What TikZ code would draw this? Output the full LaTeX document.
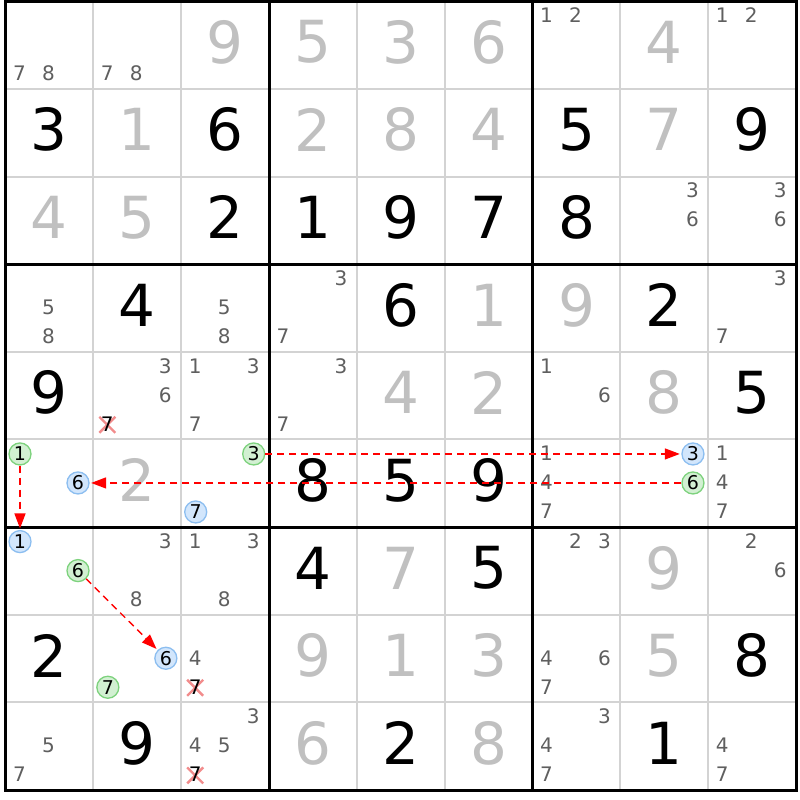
\documentclass[tikz,border=0pt]{standalone}
\usepackage{fontspec}
\setmainfont{DejaVu Sans}
\usetikzlibrary{arrows.meta}
\definecolor{gridgray}{RGB}{211,211,211}
\definecolor{givengray}{RGB}{192,192,192}
\definecolor{candgray}{RGB}{95,95,95}
\definecolor{gfill}{RGB}{210,240,210}
\definecolor{gdraw}{RGB}{125,210,125}
\definecolor{bfill}{RGB}{210,230,252}
\definecolor{bdraw}{RGB}{140,190,240}
\definecolor{xcol}{RGB}{242,140,140}
\tikzset{
 bigblack/.style={font=\fontsize{58}{58}\selectfont, text=black, inner sep=0pt},
 biggray/.style={bigblack, text=givengray},
 candd/.style={font=\fontsize{20}{20}\selectfont, text=candgray, inner sep=0pt},
 candk/.style={candd, text=black},
 gcirc/.style={circle, draw=gdraw, fill=gfill, line width=1.3pt, minimum size=22pt, inner sep=0pt, font=\fontsize{19}{19}\selectfont, text=black},
 bcirc/.style={gcirc, draw=bdraw, fill=bfill},
 link/.style={red, line width=1.4pt, dash pattern=on 7pt off 5pt, shorten >=1.5pt, -{Triangle[length=15pt,width=11pt]}},
 xmark/.style={xcol, line width=2.4pt},
 gridline/.style={gridgray, line width=2pt},
 boxline/.style={black, line width=3pt},
}
\newcommand\givenat[4]{\node[#4] (v#1#2) at ({5.5+87.85*(#2+0.5)},{1.2+87.65*(#1+0.5)-3}) {#3};}
\newcommand\candat[4][candd]{%
 \pgfmathtruncatemacro\cdr{(#4-1)/3}%
 \pgfmathtruncatemacro\cdc{mod(#4-1,3)}%
 \node[#1] (p#2#3#4) at ({5.5+87.85*#3+14+29*\cdc},{1.2+87.65*#2+14+29*\cdr}) {#4};}
\newcommand\circat[5]{%
 \pgfmathtruncatemacro\cdr{(#5-1)/3}%
 \pgfmathtruncatemacro\cdc{mod(#5-1,3)}%
 \node[#2] (#1) at ({5.5+87.85*#4+14.5+29*\cdc},{1.2+87.65*#3+14.5+29*\cdr}) {#5};}
\newcommand\xat[3]{%
 \pgfmathtruncatemacro\cdr{(#3-1)/3}%
 \pgfmathtruncatemacro\cdc{mod(#3-1,3)}%
 \coordinate (q#1#2#3) at ({5.5+87.85*#2+14+29*\cdc},{1.2+87.65*#1+14+29*\cdr});
 \draw[xmark, shift={(q#1#2#3)}] (-8,-7) -- (8,9) (8,-7) -- (-8,9);
 \node[candk] (p#1#2#3) at (q#1#2#3) {#3};}
\begin{document}
\begin{tikzpicture}[x=1pt,y=-1pt]
\fill[white] (0,0) rectangle (800,800);
\useasboundingbox (0,0) rectangle (800,800);
% grid
\foreach \k in {1,2,4,5,7,8} {
 \draw[gridline] ({5.5+87.85*\k},1.2) -- ({5.5+87.85*\k},790.05);
 \draw[gridline] (5.5,{1.2+87.65*\k}) -- (796.15,{1.2+87.65*\k});
}
\foreach \k in {3,6} {
 \draw[boxline] ({5.5+87.85*\k},1.2) -- ({5.5+87.85*\k},790.05);
 \draw[boxline] (5.5,{1.2+87.65*\k}) -- (796.15,{1.2+87.65*\k});
}
\draw[boxline] (5.5,1.2) rectangle (796.15,790.05);
% given / solved digits
\givenat{0}{2}{9}{biggray}\givenat{0}{3}{5}{biggray}\givenat{0}{4}{3}{biggray}\givenat{0}{5}{6}{biggray}\givenat{0}{7}{4}{biggray}
\givenat{1}{0}{3}{bigblack}\givenat{1}{1}{1}{biggray}\givenat{1}{2}{6}{bigblack}\givenat{1}{3}{2}{biggray}\givenat{1}{4}{8}{biggray}\givenat{1}{5}{4}{biggray}\givenat{1}{6}{5}{bigblack}\givenat{1}{7}{7}{biggray}\givenat{1}{8}{9}{bigblack}
\givenat{2}{0}{4}{biggray}\givenat{2}{1}{5}{biggray}\givenat{2}{2}{2}{bigblack}\givenat{2}{3}{1}{bigblack}\givenat{2}{4}{9}{bigblack}\givenat{2}{5}{7}{bigblack}\givenat{2}{6}{8}{bigblack}
\givenat{3}{1}{4}{bigblack}\givenat{3}{4}{6}{bigblack}\givenat{3}{5}{1}{biggray}\givenat{3}{6}{9}{biggray}\givenat{3}{7}{2}{bigblack}
\givenat{4}{0}{9}{bigblack}\givenat{4}{4}{4}{biggray}\givenat{4}{5}{2}{biggray}\givenat{4}{7}{8}{biggray}\givenat{4}{8}{5}{bigblack}
\givenat{5}{1}{2}{biggray}\givenat{5}{3}{8}{bigblack}\givenat{5}{4}{5}{bigblack}\givenat{5}{5}{9}{bigblack}
\givenat{6}{3}{4}{bigblack}\givenat{6}{4}{7}{biggray}\givenat{6}{5}{5}{bigblack}\givenat{6}{7}{9}{biggray}
\givenat{7}{0}{2}{bigblack}\givenat{7}{3}{9}{biggray}\givenat{7}{4}{1}{biggray}\givenat{7}{5}{3}{biggray}\givenat{7}{7}{5}{biggray}\givenat{7}{8}{8}{bigblack}
\givenat{8}{1}{9}{bigblack}\givenat{8}{3}{6}{biggray}\givenat{8}{4}{2}{bigblack}\givenat{8}{5}{8}{biggray}\givenat{8}{7}{1}{bigblack}
% candidates
\candat{0}{0}{7}\candat{0}{0}{8}\candat{0}{1}{7}\candat{0}{1}{8}
\candat{0}{6}{1}\candat{0}{6}{2}\candat{0}{8}{1}\candat{0}{8}{2}
\candat{2}{7}{3}\candat{2}{7}{6}\candat{2}{8}{3}\candat{2}{8}{6}
\candat{3}{0}{5}\candat{3}{0}{8}\candat{3}{2}{5}\candat{3}{2}{8}
\candat{3}{3}{3}\candat{3}{3}{7}\candat{3}{8}{3}\candat{3}{8}{7}
\candat{4}{1}{3}\candat{4}{1}{6}\xat{4}{1}{7}
\candat{4}{2}{1}\candat{4}{2}{3}\candat{4}{2}{7}
\candat{4}{3}{3}\candat{4}{3}{7}\candat{4}{6}{1}\candat{4}{6}{6}
\candat{5}{6}{1}\candat{5}{6}{4}\candat{5}{6}{7}
\candat{5}{8}{1}\candat{5}{8}{4}\candat{5}{8}{7}
\candat{6}{1}{3}\candat{6}{1}{8}\candat{6}{2}{1}\candat{6}{2}{3}\candat{6}{2}{8}
\candat{6}{6}{2}\candat{6}{6}{3}\candat{6}{8}{2}\candat{6}{8}{6}
\candat{7}{2}{4}\xat{7}{2}{7}
\candat{7}{6}{4}\candat{7}{6}{6}\candat{7}{6}{7}
\candat{8}{0}{5}\candat{8}{0}{7}
\candat{8}{2}{3}\candat{8}{2}{4}\candat{8}{2}{5}\xat{8}{2}{7}
\candat{8}{6}{3}\candat{8}{6}{4}\candat{8}{6}{7}
\candat{8}{8}{4}\candat{8}{8}{7}
% highlighted candidates
\circat{cA1}{gcirc}{5}{0}{1}\circat{cA6}{bcirc}{5}{0}{6}
\circat{cB3}{gcirc}{5}{2}{3}\circat{cB7}{bcirc}{5}{2}{7}
\circat{cC3}{bcirc}{5}{7}{3}\circat{cC6}{gcirc}{5}{7}{6}
\circat{cD1}{bcirc}{6}{0}{1}\circat{cD6}{gcirc}{6}{0}{6}
\circat{cE6}{bcirc}{7}{1}{6}\circat{cE7}{gcirc}{7}{1}{7}
% links
\draw[link] (cA1) -- (cD1);
\draw[link] (cB3) -- (cC3);
\draw[link] (cC6) -- (cA6);
\draw[link] (cD6) -- (cE6);
\end{tikzpicture}
\end{document}
